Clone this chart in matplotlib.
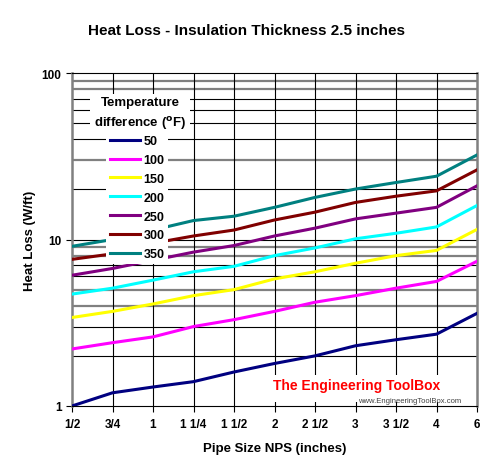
import matplotlib
matplotlib.use("Agg")
import matplotlib.pyplot as plt
from matplotlib.patches import Rectangle

plt.rcParams['font.family'] = ['Liberation Sans', 'DejaVu Sans']

# pipe sizes (NPS, inches) on the category axis
sizes = ['1/2', '3/4', '1', '1 1/4', '1 1/2', '2', '2 1/2', '3', '3 1/2', '4', '6']

# heat loss (W/ft) per temperature difference (F)
dt50 = [1.0, 1.2, 1.3, 1.4, 1.6, 1.8, 2.0, 2.3, 2.5, 2.7, 3.6]
dt100 = [2.2, 2.4, 2.6, 3.0, 3.3, 3.7, 4.2, 4.6, 5.1, 5.6, 7.4]
dt150 = [3.4, 3.7, 4.1, 4.6, 5.0, 5.8, 6.4, 7.2, 8.0, 8.6, 11.5]
dt200 = [4.7, 5.1, 5.7, 6.4, 6.9, 8.0, 8.9, 10.1, 10.9, 11.9, 16.0]
dt250 = [6.1, 6.7, 7.5, 8.4, 9.2, 10.5, 11.7, 13.3, 14.4, 15.6, 21.0]
dt300 = [7.6, 8.2, 9.5, 10.5, 11.4, 13.1, 14.6, 16.7, 18.2, 19.6, 26.2]
dt350 = [9.1, 10.0, 11.4, 13.0, 13.8, 15.6, 17.9, 20.1, 22.0, 24.0, 32.2]

series = [('50', dt50, '#000080'),
          ('100', dt100, '#ff00ff'),
          ('150', dt150, '#ffff00'),
          ('200', dt200, '#00ffff'),
          ('250', dt250, '#800080'),
          ('300', dt300, '#800000'),
          ('350', dt350, '#008080')]

grid_vals = [2, 3, 4, 5, 6, 7, 8, 9, 10, 20, 30, 40, 50, 60, 70, 80, 90]
gray_vals = [4, 5, 8, 9, 30, 80, 90]

fig = plt.figure(figsize=(5.0, 4.77), dpi=100)
ax = fig.add_axes([0.144, 0.1468, 0.81, 0.698])
x = list(range(len(sizes)))

for v in grid_vals:
    if v in gray_vals:
        ax.axhline(v, color='#808080', lw=1.6, zorder=1)
    else:
        ax.axhline(v, color='k', lw=0.8, zorder=1)
for xi in x[1:-1]:
    ax.axvline(xi, color='k', lw=0.8, zorder=1)

for label, vals, col in series:
    ax.plot(x, vals, color=col, lw=2.2, label=label, zorder=3)

ax.set_yscale('log')
ax.set_ylim(1, 100)
ax.set_xlim(0, len(sizes) - 1)
ax.set_yticks([1, 10, 100])
ax.set_yticklabels(['1', '10', '100'])
ax.minorticks_off()
ax.set_xticks(x)
ax.set_xticklabels(sizes)
ax.tick_params(axis='both', length=4, width=0.8, color='k', labelsize=8.5)
for t in ax.get_xticklabels() + ax.get_yticklabels():
    t.set_fontweight('bold')
ax.tick_params(axis='x', pad=5)

for side in ['left', 'right']:
    ax.spines[side].set_color('#808080')
    ax.spines[side].set_linewidth(1.8)
ax.spines['top'].set_color('k')
ax.spines['top'].set_linewidth(0.8)
ax.spines['bottom'].set_color('k')
ax.spines['bottom'].set_linewidth(0.8)

ax.set_xlabel('Pipe Size NPS (inches)', fontsize=9.5, fontweight='bold', labelpad=8)
ax.set_ylabel('Heat Loss (W/ft)', fontsize=9.5, fontweight='bold', labelpad=4)
fig.text(0.494, 0.935, 'Heat Loss - Insulation Thickness 2.5 inches',
         ha='center', va='center', fontsize=11, fontweight='bold')

leg = ax.legend(loc='upper left', bbox_to_anchor=(0.085, 0.825), frameon=True,
                fontsize=9, handlelength=2.4, handletextpad=0.25,
                labelspacing=0.55, borderpad=0.3, borderaxespad=0)
leg.get_frame().set_facecolor('white')
leg.get_frame().set_edgecolor('none')
leg.get_frame().set_alpha(1)
leg.set_zorder(6)
for t in leg.get_texts():
    t.set_fontweight('bold')

ax.text(0.168, 0.878, 'Temperature\ndifference ($\\mathbf{^o}$F)',
        transform=ax.transAxes, ha='center', va='center', fontsize=9.5,
        fontweight='bold', linespacing=1.45, zorder=5,
        bbox=dict(facecolor='white', edgecolor='none', pad=3))

# watermark with white backing
ax.add_patch(Rectangle((0.489, 0.012), 0.48, 0.08, transform=ax.transAxes,
                       facecolor='white', edgecolor='none', zorder=2))
ax.text(0.497, 0.062, 'The Engineering ToolBox', transform=ax.transAxes,
        color='#ff0000', fontsize=10, fontweight='bold',
        ha='left', va='center', zorder=2.5)
ax.text(0.96, 0.017, 'www.EngineeringToolBox.com', transform=ax.transAxes,
        color='#404040', fontsize=5.5, ha='right', va='center', zorder=2.5)

fig.savefig('out.png', dpi=100)
